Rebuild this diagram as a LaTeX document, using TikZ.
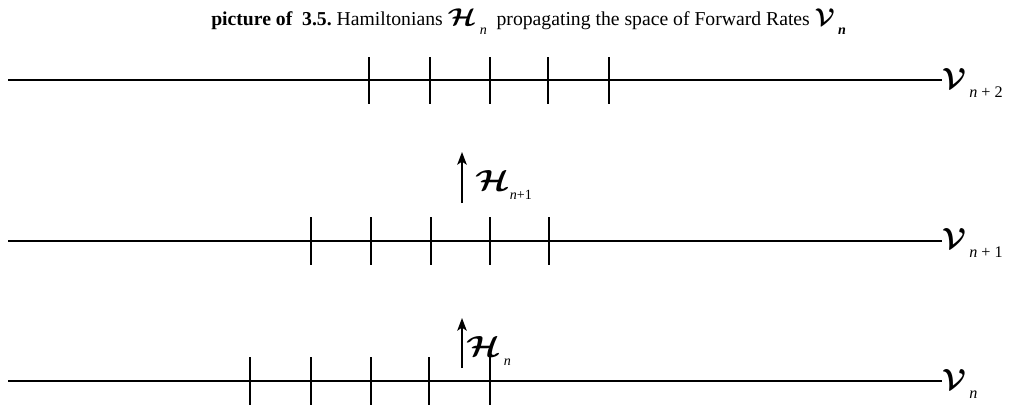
\documentclass[tikz,border=0pt]{standalone}
\usepackage{fontspec}
\setmainfont{Liberation Serif}
\usepackage{amsmath}
\usepackage{graphicx}
\usetikzlibrary{arrows.meta}

\newcommand{\hamH}[1][22]{\scalebox{1.2}[1]{\fontsize{#1}{#1}\selectfont\boldmath$\mathcal{H}$}}
\newcommand{\spaceV}[1][20]{{\fontsize{#1}{#1}\selectfont\boldmath$\mathcal{V}$}}
\newcommand{\lowidx}[2][11]{\raisebox{-1.1ex}{\fontsize{#1}{#1}\selectfont #2}}

\begin{document}
\begin{tikzpicture}[x=0.025cm, y=-0.025cm,
        level/.style={line width=1pt, draw=black},
        tick/.style={line width=0.9pt, draw=black},
        hamArrow/.style={-{Stealth[length=3.2mm, width=2.4mm, inset=0.8mm]}, line width=1pt},
        spaceLabel/.style={anchor=base west, inner sep=0pt, font=\fontsize{13}{15}\selectfont},
        hamLabel/.style={anchor=base west, inner sep=0pt, font=\fontsize{13}{15}\selectfont}
      ]
      \useasboundingbox (0,0) rectangle (1013,414);

      % title
      \node[anchor=base west, inner sep=0pt, font=\fontsize{14}{16}\selectfont] (title) at (211,25)
        {\textbf{picture of\ \ 3.5.}\ Hamiltonians\ \hamH[18]\,\lowidx[10]{\textit{n}}\ \ propagating the space of Forward Rates\ \spaceV[18]\,\lowidx[10]{\textbf{\textit{n}}}};

      % levels
      \node[spaceLabel] (v2) at (942,88) {\spaceV\,\lowidx[11.5]{\textit{n} + 2}};
      \node[spaceLabel] (v1) at (942,248) {\spaceV\,\lowidx[11.5]{\textit{n} + 1}};
      \node[spaceLabel] (v0) at (942,389) {\spaceV\,\lowidx[11.5]{\textit{n}}};
      \coordinate (s2) at (8,80);
      \coordinate (s1) at (8,241);
      \coordinate (s0) at (8,381);
      \draw[level] (s2) -- (s2 -| v2.west);
      \draw[level] (s1) -- (s1 -| v1.west);
      \draw[level] (s0) -- (s0 -| v0.west);

      % ticks
      \foreach \x in {369,430,490,548,609}
        \draw[tick] (\x,57) -- (\x,104);
      \foreach \x in {311,371,431,490,549}
        \draw[tick] (\x,217) -- (\x,265);
      \foreach \x in {250,311,371,429,490}
        \draw[tick] (\x,357) -- (\x,405);

      % hamiltonians
      \coordinate (a1s) at (462,203);
      \coordinate (a1e) at (462,152);
      \coordinate (a0s) at (462,368);
      \coordinate (a0e) at (462,318);
      \draw[hamArrow] (a1s) -- (a1e);
      \draw[hamArrow] (a0s) -- (a0e);
      \node[hamLabel] (h1) at (475,190) {\hamH[21]\lowidx[10]{\textit{n}+1}};
      \node[hamLabel] (h0) at (466,356) {\hamH[21]\,\lowidx[10]{\textit{n}}};
    \end{tikzpicture}
\end{document}
